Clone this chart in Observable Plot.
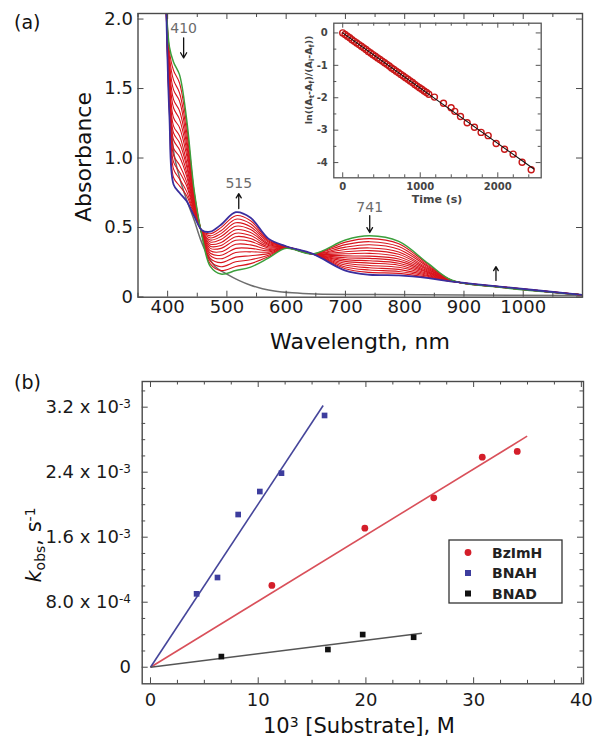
<!DOCTYPE html>
<html><head><meta charset="utf-8">
<script src="https://cdn.jsdelivr.net/npm/d3@7"></script>
<script src="https://cdn.jsdelivr.net/npm/@observablehq/plot@0.6"></script>
<style>
body{margin:0;background:#fff;}
#wrap{position:relative;width:602px;height:749px;overflow:hidden;background:#fff;}
#wrap svg{display:block;}
</style></head><body><div id="wrap"></div>
<script>
// ---------- Panel (a): spectra ----------
const wavelengths = [396, 403, 410, 420, 432, 445, 458, 472, 490, 515, 540, 570, 600, 645, 700, 741, 790, 840, 880, 960, 1100];
const greenSpectrum = [2.30, 1.80, 1.69, 1.60, 1.28, 0.76, 0.44, 0.22, 0.165, 0.19, 0.215, 0.28, 0.35, 0.31, 0.41, 0.44, 0.40, 0.24, 0.12, 0.07, 0.015];
const blueSpectrum = [2.40, 1.30, 0.81, 0.75, 0.69, 0.58, 0.48, 0.47, 0.52, 0.61, 0.57, 0.42, 0.365, 0.31, 0.19, 0.16, 0.155, 0.135, 0.11, 0.075, 0.015];
const redSpectra = [
  [2.35,1.77,1.63,1.54,1.24,0.750,0.443,0.238,0.190,0.219,0.240,0.290,0.352,0.31,0.395,0.420,0.383,0.233,0.119,0.071,0.015],
  [2.35,1.73,1.56,1.47,1.19,0.733,0.446,0.258,0.218,0.253,0.268,0.301,0.352,0.31,0.377,0.398,0.363,0.224,0.118,0.071,0.015],
  [2.35,1.69,1.49,1.41,1.14,0.719,0.449,0.278,0.247,0.287,0.297,0.312,0.353,0.31,0.359,0.376,0.344,0.216,0.118,0.071,0.015],
  [2.35,1.65,1.42,1.34,1.10,0.704,0.452,0.298,0.275,0.320,0.325,0.323,0.354,0.31,0.342,0.353,0.324,0.207,0.117,0.072,0.015],
  [2.35,1.61,1.36,1.28,1.06,0.692,0.455,0.315,0.300,0.350,0.350,0.333,0.355,0.31,0.326,0.334,0.307,0.200,0.116,0.072,0.015],
  [2.35,1.58,1.29,1.22,1.02,0.679,0.458,0.333,0.325,0.379,0.375,0.343,0.356,0.31,0.311,0.314,0.290,0.193,0.116,0.072,0.015],
  [2.35,1.54,1.23,1.16,0.97,0.666,0.461,0.350,0.350,0.408,0.400,0.353,0.357,0.31,0.296,0.294,0.273,0.185,0.115,0.073,0.015],
  [2.35,1.51,1.18,1.11,0.94,0.656,0.463,0.365,0.371,0.434,0.421,0.361,0.358,0.31,0.282,0.278,0.258,0.179,0.114,0.073,0.015],
  [2.35,1.48,1.13,1.06,0.90,0.645,0.466,0.380,0.392,0.459,0.442,0.370,0.360,0.31,0.269,0.261,0.243,0.173,0.114,0.073,0.015],
  [2.35,1.45,1.07,1.01,0.87,0.634,0.468,0.395,0.414,0.484,0.464,0.378,0.360,0.31,0.256,0.244,0.229,0.167,0.113,0.073,0.015],
  [2.35,1.42,1.02,0.95,0.83,0.623,0.470,0.410,0.435,0.509,0.485,0.386,0.361,0.31,0.243,0.227,0.214,0.160,0.113,0.074,0.015],
  [2.35,1.39,0.97,0.90,0.80,0.612,0.473,0.425,0.456,0.534,0.506,0.395,0.362,0.31,0.230,0.210,0.199,0.154,0.112,0.074,0.015],
  [2.35,1.36,0.92,0.85,0.76,0.602,0.475,0.440,0.477,0.560,0.527,0.403,0.363,0.31,0.216,0.194,0.184,0.148,0.111,0.074,0.015],
  [2.35,1.33,0.86,0.80,0.73,0.591,0.478,0.455,0.499,0.585,0.549,0.412,0.364,0.31,0.203,0.177,0.170,0.141,0.111,0.075,0.015]
];
const grayWavelengths = [396, 403, 410, 420, 432, 445, 455, 465, 480, 500, 520, 540, 560, 580, 610, 650, 750, 900, 1100];
const graySpectrum = [2.3, 1.5, 1.05, 0.86, 0.70, 0.55, 0.42, 0.32, 0.22, 0.165, 0.12, 0.085, 0.06, 0.043, 0.03, 0.022, 0.018, 0.015, 0.01];
const peakLabels = ["410", "515", "741"];
const peakLabelWave = [427, 520, 741];
const peakLabelAbs = [1.93, 0.816, 0.643];
const arrowWave = [427, 520, 741, 954];
const arrowFromAbs = [1.865, 0.636, 0.586, 0.119];
const arrowToAbs = [1.72, 0.744, 0.464, 0.219];
const xTicksA = [400, 500, 600, 700, 800, 900, 1000];
const xMinorA = [350, 450, 550, 650, 750, 850, 950, 1050];
const yTicksA = [0, 0.5, 1.0, 1.5, 2.0];

// ---------- Inset ----------
const insetTime = [0,30,60,90,120,150,180,210,240,270,300,330,360,390,420,450,480,510,540,570,600,630,660,690,720,750,780,810,840,870,900,930,960,990,1020,1050,1080,1110,1183,1300,1398,1445,1519,1605,1699,1785,1876,1979,2087,2198,2314,2431];
const insetLn = [0,-0.05,-0.10,-0.15,-0.21,-0.26,-0.31,-0.36,-0.41,-0.46,-0.51,-0.57,-0.62,-0.67,-0.72,-0.77,-0.82,-0.87,-0.92,-0.97,-1.02,-1.08,-1.13,-1.18,-1.23,-1.28,-1.33,-1.38,-1.43,-1.48,-1.53,-1.59,-1.64,-1.69,-1.74,-1.79,-1.84,-1.89,-1.98,-2.17,-2.31,-2.42,-2.58,-2.77,-2.91,-3.07,-3.17,-3.41,-3.59,-3.74,-3.99,-4.22];
const insetFitTime = [0, 2465];
const insetFitLn = [0, -4.2];
const insetXTicks = [0, 1000, 2000];
const insetXMinor = [200, 400, 600, 800, 1200, 1400, 1600, 1800, 2200, 2400];
const insetYTicks = [0, -1, -2, -3, -4];
const insetYMinor = [-0.5, -1.5, -2.5, -3.5];

// ---------- Panel (b) ----------
const seriesNames = ["BzImH", "BNAH", "BNAD"];
const bzimhConc = [11.27, 19.9, 26.3, 30.8, 34.05];
const bzimhK = [1.006e-3, 1.711e-3, 2.085e-3, 2.585e-3, 2.655e-3];
const bnahConc = [4.28, 6.22, 8.14, 10.15, 12.16, 16.16];
const bnahK = [0.903e-3, 1.104e-3, 1.879e-3, 2.162e-3, 2.388e-3, 3.098e-3];
const bnadConc = [6.58, 16.47, 19.7, 24.43];
const bnadK = [0.131e-3, 0.218e-3, 0.402e-3, 0.369e-3];
const fitStartConc = [0, 0, 0];
const fitStartK = [0, 0, 0];
const fitEndConc = [34.97, 16.03, 25.2];
const fitEndK = [2.843e-3, 3.22e-3, 0.419e-3];
const xTicksB = [0, 10, 20, 30, 40];
const xMinorB = [2.5, 5, 7.5, 12.5, 15, 17.5, 22.5, 25, 27.5, 32.5, 35, 37.5];
const yTicksB = [0, 0.0008, 0.0016, 0.0024, 0.0032];
const yMinorB = [0.0002, 0.0004, 0.0006, 0.0010, 0.0012, 0.0014, 0.0018, 0.0020, 0.0022, 0.0026, 0.0028, 0.0030, 0.0034];
const yTickMantissa = ["0", "8.0", "1.6", "2.4", "3.2"];
const yTickExponent = ["", "-4", "-3", "-3", "-3"];

// ================= drawing =================
const FONT = "DejaVu Sans, Liberation Sans, Arial, sans-serif";
const AX = "#4a4a4a";
const wrap = document.getElementById("wrap");

function frameTicks(xVals, yVals, len, fw, fh, stroke) {
  const m = [];
  if (xVals) {
    m.push(Plot.tickX(xVals, {x: d => d, insetTop: fh - len, stroke, strokeWidth: 1}));
    m.push(Plot.tickX(xVals, {x: d => d, insetBottom: fh - len, stroke, strokeWidth: 1}));
  }
  if (yVals) {
    m.push(Plot.tickY(yVals, {y: d => d, insetRight: fw - len, stroke, strokeWidth: 1}));
    m.push(Plot.tickY(yVals, {y: d => d, insetLeft: fw - len, stroke, strokeWidth: 1}));
  }
  return m;
}
function addText(sel, opts) {
  const t = sel.append("text").attr("text-anchor", opts.anchor || "start")
    .style("font-family", FONT).style("font-size", opts.size + "px").attr("fill", opts.fill || "#111");
  if (opts.transform) t.attr("transform", opts.transform); else t.attr("x", opts.x).attr("y", opts.y);
  if (opts.weight) t.style("font-weight", opts.weight);
  if (opts.dy) t.attr("dy", opts.dy);
  if (opts.text) t.text(opts.text);
  return t;
}

// ---- panel a
const specRows = [];
redSpectra.forEach((s, j) => s.forEach((a, i) => specRows.push({w: wavelengths[i], a, id: j})));
const greenRows = wavelengths.map((w, i) => ({w, a: greenSpectrum[i]}));
const blueRows = wavelengths.map((w, i) => ({w, a: blueSpectrum[i]}));
const grayRows = grayWavelengths.map((w, i) => ({w, a: graySpectrum[i]}));

const A = {w: 602, h: 360, ml: 137.5, mr: 20, mt: 13, mb: 63.3};
const fwA = A.w - A.ml - A.mr, fhA = A.h - A.mt - A.mb;
const plotA = Plot.plot({
  width: A.w, height: A.h, marginLeft: A.ml, marginRight: A.mr, marginTop: A.mt, marginBottom: A.mb,
  style: {fontFamily: FONT, background: "transparent", color: "#1a1a1a"},
  x: {domain: [350, 1100]},
  y: {domain: [-0.0015, 2.04]},
  marks: [
    Plot.line(grayRows, {x: "w", y: "a", stroke: "#6e6e6e", strokeWidth: 1.5, curve: "catmull-rom", clip: true}),
    Plot.line(specRows, {x: "w", y: "a", z: "id", stroke: "#d8141c", strokeWidth: 1.1, curve: "catmull-rom", clip: true}),
    Plot.line(greenRows, {x: "w", y: "a", stroke: "#3c9f3c", strokeWidth: 1.5, curve: "catmull-rom", clip: true}),
    Plot.line(blueRows, {x: "w", y: "a", stroke: "#3a2e9e", strokeWidth: 1.8, curve: "catmull-rom", clip: true}),
    Plot.frame({stroke: AX, strokeWidth: 1.4}),
    ...frameTicks(xTicksA, yTicksA, 6, fwA, fhA, AX),
    ...frameTicks(xMinorA, null, 4, fwA, fhA, AX),
    Plot.axisX({ticks: xTicksA, tickSize: 0, tickPadding: 3, fontSize: 18, label: null, tickFormat: d => String(d)}),
    Plot.axisY({ticks: yTicksA, tickSize: 0, tickPadding: 5, fontSize: 18, label: null, tickFormat: d => d === 0 ? "0" : d.toFixed(1)}),
    Plot.text(peakLabels, {x: peakLabelWave, y: peakLabelAbs, text: d => d, fill: "#6b6b6b", fontSize: 14}),
    Plot.arrow(arrowWave, {x1: arrowWave, y1: arrowFromAbs, x2: arrowWave, y2: arrowToAbs, stroke: "#111", strokeWidth: 1.3, headLength: 7})
  ]
});
wrap.appendChild(plotA);
const sa = d3.select(plotA);
addText(sa, {x: 14, y: 29, size: 19, text: "(a)"});
addText(sa, {transform: "translate(91,157) rotate(-90)", anchor: "middle", size: 22, text: "Absorbance"});
addText(sa, {x: 360, y: 349, anchor: "middle", size: 22, text: "Wavelength, nm"});

// ---- inset
const I = {w: 260, h: 200, ml: 43.3, mr: 9.3, mt: 12.7, mb: 32.7};
const fwI = I.w - I.ml - I.mr, fhI = I.h - I.mt - I.mb;
const insetRows = insetTime.map((t, i) => ({t, v: insetLn[i]}));
const insetFit = insetFitTime.map((t, i) => ({t, v: insetFitLn[i]}));
const plotI = Plot.plot({
  width: I.w, height: I.h, marginLeft: I.ml, marginRight: I.mr, marginTop: I.mt, marginBottom: I.mb,
  style: {fontFamily: FONT, background: "transparent", color: "#444"},
  x: {domain: [-115, 2560]},
  y: {domain: [-4.47, 0.3]},
  marks: [
    Plot.frame({fill: "white", stroke: "#555", strokeWidth: 1.3}),
    ...frameTicks(insetXTicks, insetYTicks, 5, fwI, fhI, "#555"),
    ...frameTicks(insetXMinor, insetYMinor, 3, fwI, fhI, "#555"),
    Plot.dot(insetRows, {x: "t", y: "v", r: 3, stroke: "#c81818", strokeWidth: 1.4, fill: "none"}),
    Plot.line(insetFit, {x: "t", y: "v", stroke: "#111", strokeWidth: 1.1}),
    Plot.axisX({ticks: insetXTicks, tickSize: 0, tickPadding: 5, fontSize: 10, fontWeight: "bold", label: null, tickFormat: d => String(d)}),
    Plot.axisY({ticks: insetYTicks, tickSize: 0, tickPadding: 6, fontSize: 10, fontWeight: "bold", label: null, tickFormat: d => String(d)})
  ]
});
plotI.style.position = "absolute";
plotI.style.left = "290px";
plotI.style.top = "10px";
wrap.appendChild(plotI);
const si = d3.select(plotI);
addText(si, {x: 147, y: 193, anchor: "middle", size: 11, weight: "bold", fill: "#444", text: "Time (s)"});
const lnLab = addText(si, {transform: "translate(22,70) rotate(-90)", anchor: "middle", size: 9.5, weight: "bold", fill: "#444"});
[["ln((A", 0], ["t", 1], ["-A", 0], ["f", 1], [")/(A", 0], ["i", 1], ["-A", 0], ["f", 1], ["))", 0]].forEach(([s, sub]) => {
  lnLab.append("tspan").attr("baseline-shift", sub ? "-25%" : null).style("font-size", sub ? "7px" : null).text(s);
});

// ---- panel b
const B = {w: 602, h: 389, ml: 141.7, mr: 19, mt: 21, mb: 65.7};
const fwB = B.w - B.ml - B.mr, fhB = B.h - B.mt - B.mb;
const lineColors = ["#d9505a", "#45459a", "#555555"];
const markColors = ["#d41e2a", "#3d3d9e", "#111111"];
const toRows = (xs, ks) => xs.map((c, i) => ({c, k: ks[i]}));
const plotB = Plot.plot({
  width: B.w, height: B.h, marginLeft: B.ml, marginRight: B.mr, marginTop: B.mt, marginBottom: B.mb,
  style: {fontFamily: FONT, background: "transparent", color: "#1a1a1a"},
  x: {domain: [-0.77, 40.2]},
  y: {domain: [-0.000204, 0.003516]},
  marks: [
    Plot.frame({stroke: AX, strokeWidth: 1.4}),
    ...frameTicks(xTicksB, yTicksB, 6, fwB, fhB, AX),
    ...frameTicks(xMinorB, yMinorB, 3.5, fwB, fhB, AX),
    ...seriesNames.map((s, i) => Plot.link([s], {x1: [fitStartConc[i]], y1: [fitStartK[i]], x2: [fitEndConc[i]], y2: [fitEndK[i]], stroke: lineColors[i], strokeWidth: 1.6})),
    Plot.dot(toRows(bzimhConc, bzimhK), {x: "c", y: "k", r: 3.4, fill: markColors[0]}),
    Plot.dot(toRows(bnahConc, bnahK), {x: "c", y: "k", r: 3.2, symbol: "square", fill: markColors[1]}),
    Plot.dot(toRows(bnadConc, bnadK), {x: "c", y: "k", r: 3.2, symbol: "square", fill: markColors[2]}),
    Plot.axisX({ticks: xTicksB, tickSize: 0, tickPadding: 9, fontSize: 18, label: null}),
    Plot.axisY({ticks: yTicksB, tickSize: 0, tickFormat: () => "", label: null})
  ]
});
wrap.appendChild(plotB);
const sb = d3.select(plotB);
const ys = plotB.scale("y");
yTicksB.forEach((v, i) => {
  const t = addText(sb, {x: 131, y: ys.apply(v), dy: "0.35em", anchor: "end", size: 18, fill: "#1a1a1a"});
  if (yTickExponent[i]) {
    t.append("tspan").text(yTickMantissa[i] + " x 10");
    t.append("tspan").attr("dy", "-0.45em").style("font-size", "12px").text(yTickExponent[i]);
  } else {
    t.text(yTickMantissa[i]);
  }
});
addText(sb, {x: 14, y: 29, size: 19, text: "(b)"});
const kl = addText(sb, {transform: "translate(41,185) rotate(-90)", anchor: "middle", size: 21});
kl.append("tspan").style("font-style", "italic").text("k");
kl.append("tspan").attr("baseline-shift", "-25%").style("font-size", "14px").text("obs");
kl.append("tspan").text(", s");
kl.append("tspan").attr("baseline-shift", "45%").style("font-size", "14px").text("-1");
const xl = addText(sb, {x: 359, y: 373, anchor: "middle", size: 21});
xl.append("tspan").text("10");
xl.append("tspan").attr("baseline-shift", "45%").style("font-size", "14px").text("3");
xl.append("tspan").text(" [Substrate], M");
// legend
const lg = sb.append("g");
lg.append("rect").attr("x", 449).attr("y", 180).attr("width", 113).attr("height", 63)
  .attr("fill", "white").attr("stroke", "#333").attr("stroke-width", 1.3);
seriesNames.forEach((s, i) => {
  const cy = 192.5 + i * 20.5;
  if (i === 0) lg.append("circle").attr("cx", 468).attr("cy", cy).attr("r", 3.4).attr("fill", markColors[i]);
  else lg.append("rect").attr("x", 465).attr("y", cy - 3).attr("width", 6).attr("height", 6).attr("fill", markColors[i]);
  addText(lg, {x: 492, y: cy, dy: "0.36em", size: 14, weight: "bold", fill: "#222", text: s});
});
</script></body></html>
